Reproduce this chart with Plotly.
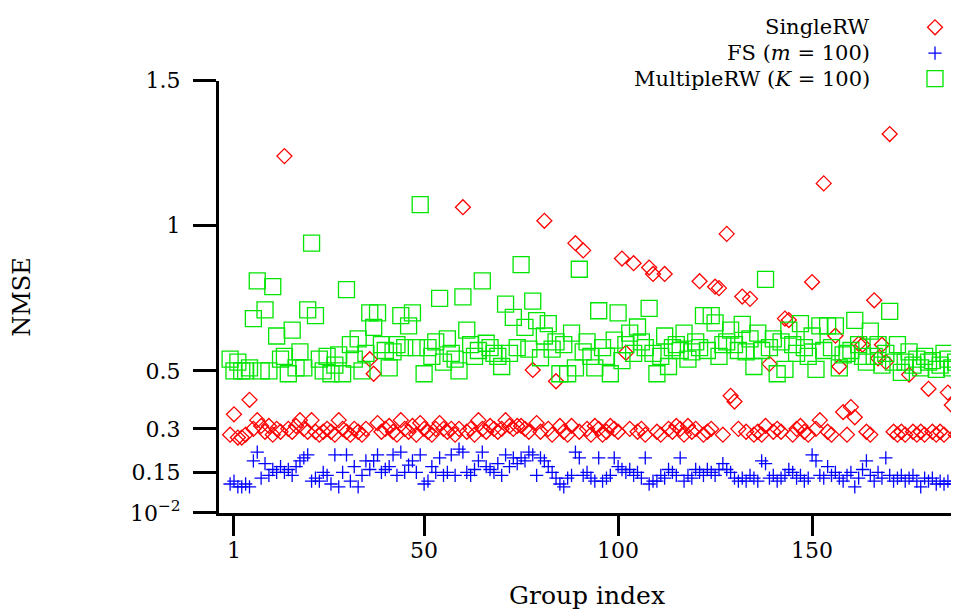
import plotly.graph_objects as go

# ---------------- data ----------------
group_index = list(range(0, 188))

single_rw = [
    0.28, 0.35, 0.27, 0.27, 0.28, 0.40, 0.30, 0.33, 0.31, 0.29,
    0.31, 0.28, 0.30, 0.29, 1.24, 0.30, 0.29, 0.31, 0.33, 0.30,
    0.29, 0.33, 0.29, 0.28, 0.29, 0.30, 0.29, 0.28, 0.33, 0.30,
    0.29, 0.28, 0.30, 0.29, 0.28, 0.30, 0.54, 0.49, 0.32, 0.29,
    0.30, 0.31, 0.29, 0.28, 0.33, 0.30, 0.29, 0.31, 0.28, 0.32,
    0.30, 0.29, 0.28, 0.30, 0.32, 0.30, 0.29, 0.30, 0.28, 0.30,
    1.064, 0.29, 0.30, 0.28, 0.33, 0.30, 0.29, 0.31, 0.30, 0.29,
    0.30, 0.33, 0.31, 0.30, 0.31, 0.31, 0.30, 0.29, 0.503, 0.32,
    0.29, 1.017, 0.30, 0.28, 0.464, 0.31, 0.29, 0.28, 0.31, 0.94,
    0.29, 0.915, 0.30, 0.28, 0.31, 0.30, 0.28, 0.29, 0.31, 0.30,
    0.29, 0.887, 0.562, 0.30, 0.871, 0.29, 0.30, 0.28, 0.856, 0.834,
    0.29, 0.28, 0.834, 0.30, 0.29, 0.31, 0.30, 0.28, 0.31, 0.29,
    0.30, 0.809, 0.28, 0.29, 0.30, 0.79, 0.785, 0.28, 0.972, 0.414,
    0.394, 0.30, 0.756, 0.29, 0.748, 0.28, 0.29, 0.28, 0.31, 0.524,
    0.29, 0.30, 0.29, 0.68, 0.675, 0.28, 0.30, 0.31, 0.29, 0.28,
    0.806, 0.30, 0.33, 1.146, 0.29, 0.28, 0.621, 0.515, 0.358, 0.28,
    0.375, 0.34, 0.593, 0.59, 0.29, 0.28, 0.743, 0.543, 0.59, 0.53,
    1.316, 0.29, 0.28, 0.29, 0.28, 0.487, 0.29, 0.28, 0.29, 0.28,
    0.438, 0.29, 0.28, 0.29, 0.28, 0.425, 0.382, 0.28,
]

fs_m100 = [
    0.11, 0.12, 0.10, 0.10, 0.11, 0.10, 0.19, 0.22, 0.13, 0.18,
    0.14, 0.16, 0.15, 0.17, 0.15, 0.16, 0.14, 0.17, 0.19, 0.20,
    0.21, 0.12, 0.13, 0.12, 0.15, 0.14, 0.11, 0.21, 0.10, 0.15,
    0.21, 0.12, 0.17, 0.10, 0.14, 0.19, 0.16, 0.19, 0.21, 0.15,
    0.16, 0.17, 0.21, 0.14, 0.22, 0.15, 0.175, 0.19, 0.15, 0.21,
    0.11, 0.12, 0.17, 0.15, 0.20, 0.14, 0.15, 0.21, 0.14, 0.23,
    0.22, 0.15, 0.14, 0.16, 0.19, 0.22, 0.17, 0.16, 0.15, 0.18,
    0.14, 0.21, 0.17, 0.20, 0.18, 0.20, 0.19, 0.22, 0.21, 0.14,
    0.20, 0.19, 0.17, 0.15, 0.13, 0.11, 0.10, 0.13, 0.14, 0.22,
    0.20, 0.14, 0.15, 0.13, 0.12, 0.20, 0.12, 0.13, 0.14, 0.20,
    0.17, 0.16, 0.15, 0.16, 0.14, 0.15, 0.13, 0.20, 0.11, 0.12,
    0.12, 0.14, 0.13, 0.16, 0.15, 0.14, 0.20, 0.12, 0.14, 0.13,
    0.16, 0.15, 0.14, 0.16, 0.15, 0.14, 0.16, 0.18, 0.16, 0.15,
    0.13, 0.12, 0.13, 0.12, 0.14, 0.13, 0.12, 0.19, 0.18, 0.13,
    0.14, 0.12, 0.13, 0.14, 0.16, 0.15, 0.13, 0.14, 0.12, 0.13,
    0.21, 0.19, 0.14, 0.13, 0.17, 0.14, 0.15, 0.13, 0.12, 0.14,
    0.15, 0.10, 0.13, 0.16, 0.19, 0.14, 0.12, 0.15, 0.13, 0.20,
    0.14, 0.12, 0.13, 0.14, 0.12, 0.13, 0.14, 0.12, 0.10, 0.13,
    0.12, 0.13, 0.11, 0.12, 0.11, 0.12, 0.11, 0.12,
]

multiple_rw_k100 = [
    0.54, 0.50, 0.53, 0.50, 0.50, 0.51, 0.68, 0.81, 0.50, 0.71,
    0.50, 0.79, 0.62, 0.54, 0.55, 0.49, 0.64, 0.51, 0.565, 0.51,
    0.71, 0.94, 0.69, 0.54, 0.50, 0.55, 0.49, 0.52, 0.555, 0.49,
    0.78, 0.59, 0.54, 0.61, 0.50, 0.56, 0.70, 0.65, 0.70, 0.59,
    0.57, 0.51, 0.565, 0.59, 0.69, 0.58, 0.655, 0.70, 0.58, 1.073,
    0.49, 0.58, 0.55, 0.60, 0.75, 0.53, 0.61, 0.56, 0.54, 0.50,
    0.755, 0.64, 0.59, 0.55, 0.57, 0.81, 0.595, 0.58, 0.56, 0.55,
    0.515, 0.73, 0.56, 0.684, 0.58, 0.866, 0.65, 0.575, 0.74, 0.673,
    0.545, 0.62, 0.663, 0.575, 0.60, 0.49, 0.59, 0.49, 0.63, 0.51,
    0.85, 0.565, 0.60, 0.55, 0.51, 0.707, 0.58, 0.55, 0.49, 0.606,
    0.70, 0.535, 0.59, 0.63, 0.56, 0.651, 0.60, 0.58, 0.715, 0.56,
    0.49, 0.55, 0.62, 0.515, 0.58, 0.59, 0.57, 0.63, 0.54, 0.565,
    0.60, 0.58, 0.69, 0.57, 0.69, 0.665, 0.55, 0.59, 0.60, 0.64,
    0.59, 0.57, 0.66, 0.565, 0.61, 0.515, 0.63, 0.57, 0.815, 0.58,
    0.61, 0.49, 0.60, 0.505, 0.64, 0.59, 0.56, 0.663, 0.58, 0.55,
    0.62, 0.505, 0.655, 0.57, 0.655, 0.58, 0.655, 0.51, 0.555, 0.56,
    0.57, 0.674, 0.59, 0.55, 0.53, 0.637, 0.55, 0.59, 0.52, 0.56,
    0.705, 0.53, 0.59, 0.495, 0.53, 0.565, 0.52, 0.54, 0.51, 0.55,
    0.53, 0.535, 0.505, 0.52, 0.56, 0.54, 0.51, 0.53,
]

series_names = ["SingleRW", "FS (<i>m</i> = 100)", "MultipleRW (<i>K</i> = 100)"]
x_tick_vals = [1, 50, 100, 150]
y_tick_vals = [0.01, 0.15, 0.3, 0.5, 1, 1.5]
y_tick_text = ["10<sup>\u22122</sup>", "0.15", "0.3", "0.5", "1", "1.5"]

# ---------------- styling / layout ----------------
FONT = "DejaVu Serif"
RED, BLUE, GREEN = "#ff0000", "#0000ff", "#00e600"

# the page body adds an 8px offset; the figure covers the rest of the window
OFF = 8
W, H = 959 - OFF, 614 - OFF
PLOT_L, PLOT_R, PLOT_T, PLOT_B = 219, 959, 70, 513      # window pixels
PW = PLOT_R - PLOT_L
PAPER_TOP = OFF
PAPER_H = PLOT_B - PAPER_TOP


def px(X):
    return (X - PLOT_L) / PW


def py(Y):
    return (PLOT_B - Y) / PAPER_H


diamond = dict(symbol="diamond-open", size=11.5, color=RED, line=dict(width=1.3, color=RED))
cross = dict(symbol="cross-thin-open", size=9.5, color=BLUE, line=dict(width=1.3, color=BLUE))
square = dict(symbol="square-open", size=16, color=GREEN, line=dict(width=1.3, color=GREEN))

fig = go.Figure()
fig.add_trace(go.Scatter(x=group_index, y=single_rw, mode="markers", name="SingleRW", marker=diamond))
fig.add_trace(go.Scatter(x=group_index, y=fs_m100, mode="markers", name="FS (m = 100)", marker=cross))
fig.add_trace(go.Scatter(x=group_index, y=multiple_rw_k100, mode="markers",
                         name="MultipleRW (K = 100)", marker=square))

# key symbols, in a separate invisible subplot spanning the whole paper
key_rows = [15.5, 42.0, 68.0]
for row, st in zip(key_rows, [diamond, cross, square]):
    fig.add_trace(go.Scatter(
        x=[px(935)], y=[py(row)], mode="markers", marker=st, xaxis="x2", yaxis="y2",
        showlegend=False, hoverinfo="skip", cliponaxis=False,
    ))

for name, row in zip(series_names, key_rows):
    fig.add_annotation(
        x=px(872), y=py(row), xref="paper", yref="paper",
        text=name, showarrow=False, xanchor="right", yanchor="middle",
        font=dict(family=FONT, size=21, color="black"),
    )

fig.add_annotation(
    x=px(22), y=py(291.5), xref="paper", yref="paper", text="NMSE",
    textangle=-90, showarrow=False, xanchor="center", yanchor="middle",
    font=dict(family=FONT, size=24, color="black"),
)
fig.add_annotation(
    x=px(587), y=py(597), xref="paper", yref="paper", text="Group index",
    showarrow=False, xanchor="center", yanchor="middle",
    font=dict(family=FONT, size=25, color="black"),
)

x_lo = (PLOT_L - 230.1) / 3.88
x_hi = (PLOT_R - 230.1) / 3.88

fig.update_layout(
    width=W, height=H,
    margin=dict(l=PLOT_L - OFF, r=0, t=0, b=H - (PLOT_B - OFF), pad=0),
    paper_bgcolor="white", plot_bgcolor="rgba(0,0,0,0)",
    showlegend=False,
    font=dict(family=FONT, size=22, color="black"),
    xaxis=dict(
        range=[x_lo, x_hi], tickvals=x_tick_vals, ticks="outside", ticklen=20,
        tickwidth=3, tickcolor="black", showline=True, linewidth=3, linecolor="black",
        showgrid=False, zeroline=False, tickfont=dict(family=FONT, size=22),
        ticklabelstandoff=-4, anchor="y",
    ),
    yaxis=dict(
        domain=[0, (PLOT_B - PLOT_T) / PAPER_H],
        range=[0.01, 1.5005], tickvals=y_tick_vals, ticktext=y_tick_text,
        ticks="outside", ticklen=23, tickwidth=3, tickcolor="black",
        showline=True, linewidth=3, linecolor="black",
        showgrid=False, zeroline=False, tickfont=dict(family=FONT, size=22),
        ticklabelstandoff=8, anchor="x",
    ),
    xaxis2=dict(domain=[0, 1], range=[0, 1], anchor="y2", visible=False),
    yaxis2=dict(domain=[0, 1], range=[0, 1], anchor="x2", visible=False),
)

fig.write_html("out.html")
